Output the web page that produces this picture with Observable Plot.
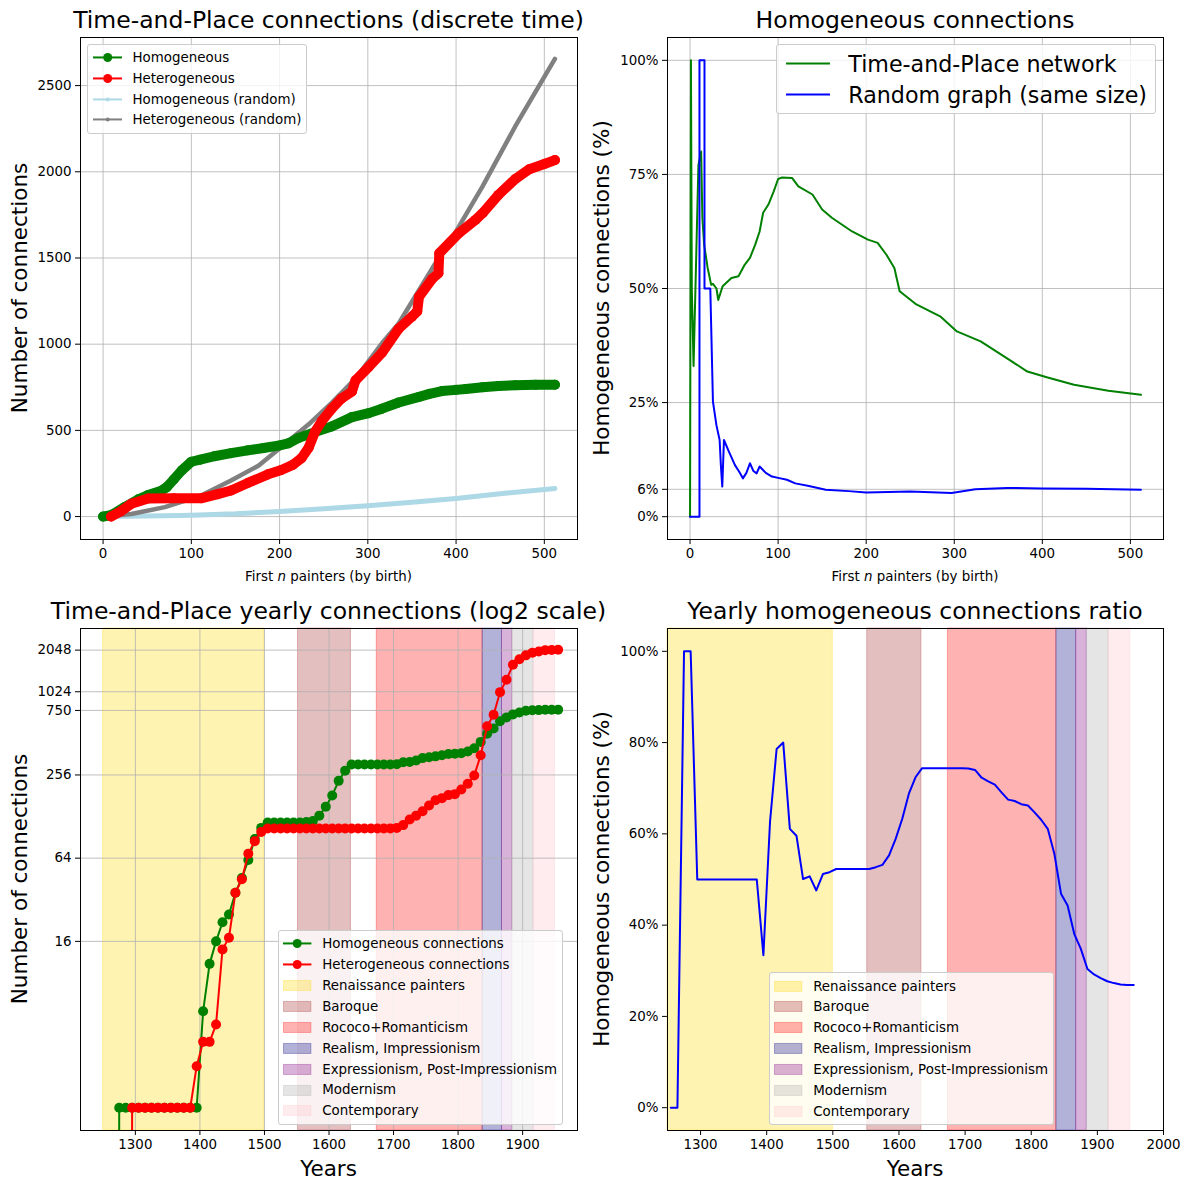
<!DOCTYPE html>
<html>
<head>
<meta charset="utf-8">
<script src="https://cdn.jsdelivr.net/npm/d3@7"></script>
<script src="https://cdn.jsdelivr.net/npm/@observablehq/plot@0.6"></script>
<style>
  body { margin: 0; background: #fff; }
  #fig { position: relative; width: 1189px; height: 1189px; font-family: "DejaVu Sans", sans-serif; color: #000; overflow: hidden; }
  .abs { position: absolute; white-space: nowrap; }
  .title { font-size: 23.5px; line-height: 1; transform: translateX(-50%); }
  .xlab-small { font-size: 13.4px; line-height: 1; transform: translateX(-50%); }
  .xlab-big { font-size: 21.5px; line-height: 1; transform: translateX(-50%); }
  .ylab { font-size: 21.5px; transform: translate(-50%, -50%) rotate(-90deg); }
  .legend { position: absolute; background: rgba(255,255,255,0.8); border: 1px solid #cccccc; border-radius: 3px; white-space: nowrap; }
</style>
</head>
<body>
<div id="fig"></div>
<script>
// ---------------- DATA ----------------
// Panel 1: cumulative connections among the first n painters
const homN = [0, 10, 24, 40, 51, 66, 72, 80, 89, 100, 110, 126, 145, 164, 182, 200, 210, 221, 240, 259, 282, 301, 316, 335, 358, 370, 384, 400, 411, 430, 448, 467, 490, 512];
const homV = [0, 10, 54, 100, 125, 150, 170, 215, 267, 318, 330, 350, 368, 384, 398, 413, 425, 455, 490, 522, 577, 600, 626, 662, 694, 712, 728, 735, 740, 750, 757, 762, 764, 765];
const hetN = [9, 20, 32, 51, 80, 111, 130, 145, 164, 187, 202, 215, 225, 233, 240, 248, 259, 270, 282, 286, 301, 316, 335, 350, 356, 358, 373, 380, 381, 403, 422, 430, 448, 467, 483, 500, 512];
const hetV = [0, 30, 74, 105, 106, 106, 130, 151, 195, 245, 270, 300, 340, 400, 490, 555, 625, 684, 725, 790, 868, 950, 1090, 1160, 1190, 1275, 1380, 1411, 1527, 1643, 1721, 1760, 1866, 1958, 2015, 2045, 2068];
const randHomN = [0, 50, 89, 100, 150, 200, 250, 300, 350, 400, 450, 512];
const randHomV = [0, 3, 6, 8, 16, 30, 45, 63, 83, 105, 132, 163];
const randHetN = [0, 32, 70, 111, 145, 176, 202, 233, 259, 286, 316, 335, 373, 401, 430, 467, 512];
const randHetV = [0, 15, 55, 122, 209, 295, 403, 535, 660, 800, 1005, 1120, 1440, 1663, 1915, 2263, 2655];
const painterTicks = [0, 100, 200, 300, 400, 500];
const countTicks = [0, 500, 1000, 1500, 2000, 2500];

// Panel 2: share of homogeneous connections (%)
const tpRatioN = [0, 1, 2, 4, 9.5, 12.6, 14, 16, 20, 24, 26, 30, 32, 37, 47, 55, 62, 68, 74, 79, 83, 89, 95, 100, 104, 116, 123, 139, 150, 161, 184, 202, 213, 223, 232, 238, 257, 284, 303, 330, 360, 383, 406, 436, 475, 512];
const tpRatioV = [0, 100, 50, 33, 77, 80, 65.5, 59.6, 54.5, 50.8, 51, 50, 47.5, 50.5, 52.3, 52.7, 55.2, 56.7, 59.6, 62.5, 66.6, 68.4, 71.3, 74, 74.3, 74.2, 72.4, 70.6, 67.3, 65.5, 62.5, 60.7, 60, 57.4, 54.5, 49.4, 46.5, 43.9, 40.6, 38.4, 34.7, 31.8, 30.5, 28.9, 27.6, 26.7];
const rgRatioN = [0, 10.7, 10.7, 16.4, 16.4, 23, 26, 30, 33.6, 35, 36.6, 38.5, 44, 51, 56, 60, 64, 68, 72, 75.6, 79, 86, 93, 100, 110, 119.5, 135, 154, 180, 200, 250, 297, 324, 360, 400, 450, 512];
const rgRatioV = [0, 0, 100, 100, 50, 50, 25.2, 20, 16.8, 11.3, 6.6, 16.8, 14.3, 11.3, 9.8, 8.4, 9.6, 11.7, 10, 9.5, 11, 9.6, 8.8, 8.5, 8.1, 7.3, 6.7, 5.9, 5.6, 5.3, 5.5, 5.2, 6.0, 6.3, 6.2, 6.1, 5.9];
const pctTicks = [0, 6, 25, 50, 75, 100];

// Panels 3 & 4: yearly cumulative connections
const years = [1255, 1265, 1275, 1285, 1295, 1305, 1315, 1325, 1335, 1345, 1355, 1365, 1375, 1385, 1395, 1405, 1415, 1425, 1435, 1445, 1455, 1465, 1475, 1485, 1495, 1505, 1515, 1525, 1535, 1545, 1555, 1565, 1575, 1585, 1595, 1605, 1615, 1625, 1635, 1645, 1655, 1665, 1675, 1685, 1695, 1705, 1715, 1725, 1735, 1745, 1755, 1765, 1775, 1785, 1795, 1805, 1815, 1825, 1835, 1845, 1855, 1865, 1875, 1885, 1895, 1905, 1915, 1925, 1935, 1945, 1955];
const yearHom = [0, 0, 1, 1, 1, 1, 1, 1, 1, 1, 1, 1, 1, 1, 1, 5, 11, 16, 22, 25, 36, 46, 62, 88, 106, 116, 116, 116, 116, 116, 116, 117, 119, 130, 151, 182, 232, 275, 305, 305, 305, 305, 305, 305, 305, 306, 316, 318, 326, 339, 344, 349, 356, 363, 364, 368, 378, 399, 444, 509, 556, 626, 668, 702, 725, 745, 752, 754, 758, 758, 760];
const yearHet = [0, 0, 0, 0, 1, 1, 1, 1, 1, 1, 1, 1, 1, 1, 2, 3, 3, 4, 14, 17, 36, 45, 69, 85, 99, 105, 105, 105, 105, 105, 105, 105, 105, 105, 105, 105, 105, 105, 105, 105, 105, 105, 105, 105, 105, 106, 111, 122, 130, 140, 154, 168, 174, 183, 186, 201, 221, 254, 355, 576, 699, 1017, 1252, 1607, 1758, 1878, 1963, 2005, 2048, 2055, 2062];
const yearRatio = [0, 0, 100, 100, 50, 50, 50, 50, 50, 50, 50, 50, 50, 50, 33.4, 62.6, 78.6, 80, 61.1, 59.6, 50.1, 50.7, 47.6, 51.2, 51.6, 52.3, 52.3, 52.3, 52.3, 52.3, 52.3, 52.7, 53.2, 55.3, 58.9, 63.3, 68.8, 72.4, 74.4, 74.4, 74.4, 74.4, 74.4, 74.4, 74.4, 74.3, 74.0, 72.3, 71.5, 70.8, 69.1, 67.5, 67.2, 66.5, 66.2, 64.7, 63.1, 61.1, 55.6, 46.9, 44.3, 38.1, 34.8, 30.4, 29.2, 28.4, 27.7, 27.3, 27.0, 26.9, 26.9];
const logTicks = [16, 64, 256, 750, 1024, 2048];
const yearTicks3 = [1300, 1400, 1500, 1600, 1700, 1800, 1900];
const yearTicks4 = [1300, 1400, 1500, 1600, 1700, 1800, 1900, 2000];
const ratioTicks = [0, 20, 40, 60, 80, 100];

// Art periods
const periodNames = ["Renaissance painters", "Baroque", "Rococo+Romanticism", "Realism, Impressionism", "Expressionism, Post-Impressionism", "Modernism", "Contemporary"];
const periodStart = [1250, 1552, 1674, 1838, 1868, 1884, 1917];
const periodEnd = [1500, 1634, 1838, 1868, 1884, 1917, 1950];
// style
const periodColors = ["gold", "brown", "red", "navy", "purple", "darkgray", "pink"];

// ---------------- HELPERS ----------------
const fig = document.getElementById("fig");
const gridColor = "#b0b0b0";
const baseStyle = { fontSize: "13.4px", fontFamily: "'DejaVu Sans', sans-serif", background: "transparent", color: "#000", overflow: "visible" };
const zip = (xs, ys) => xs.map((x, i) => ({ x, y: ys[i] }));
const periods = periodNames.map((name, i) => ({ name, x1: periodStart[i], x2: periodEnd[i], color: periodColors[i] }));
const yearly = years.map((yr, i) => ({ year: yr, hom: yearHom[i], het: yearHet[i], ratio: yearRatio[i] }));
const pos = v => (v > 0 ? v : 1e-30); // log scale: zero drawn as "below the axis"

function place(node, left, top, w) {
  const d = document.createElement("div");
  d.className = "abs";
  d.style.left = left + "px"; d.style.top = top + "px"; d.style.width = w + "px";
  d.appendChild(node);
  fig.appendChild(d);
}
function text(cls, html, left, top) {
  const d = document.createElement("div");
  d.className = "abs " + cls;
  d.style.left = left + "px"; d.style.top = top + "px";
  d.innerHTML = html;
  fig.appendChild(d);
}
function legend(o) {
  const box = document.createElement("div");
  box.className = "legend";
  box.style.top = o.top + "px";
  if (o.right != null) box.style.right = (1189 - o.right) + "px"; else box.style.left = o.left + "px";
  box.style.padding = `${o.padY}px ${o.padR}px ${o.padY}px ${o.padX}px`;
  box.style.fontSize = o.fontSize + "px";
  const ns = "http://www.w3.org/2000/svg";
  for (const it of o.items) {
    const row = document.createElement("div");
    row.style.display = "flex"; row.style.alignItems = "center"; row.style.height = o.rowH + "px";
    const svg = document.createElementNS(ns, "svg");
    svg.setAttribute("width", o.handleW); svg.setAttribute("height", o.rowH);
    svg.style.flex = "none"; svg.style.marginRight = o.gap + "px";
    const cy = o.rowH / 2;
    if (it.kind === "line") {
      const l = document.createElementNS(ns, "line");
      l.setAttribute("x1", 0); l.setAttribute("x2", o.handleW); l.setAttribute("y1", cy); l.setAttribute("y2", cy);
      l.setAttribute("stroke", it.color); l.setAttribute("stroke-width", 2);
      svg.appendChild(l);
      if (it.r) {
        const c = document.createElementNS(ns, "circle");
        c.setAttribute("cx", o.handleW / 2); c.setAttribute("cy", cy); c.setAttribute("r", it.r);
        c.setAttribute("fill", it.color);
        svg.appendChild(c);
      }
    } else {
      const r = document.createElementNS(ns, "rect");
      r.setAttribute("x", 0.5); r.setAttribute("y", cy - 5); r.setAttribute("width", o.handleW - 1); r.setAttribute("height", 10);
      r.setAttribute("fill", it.color); r.setAttribute("fill-opacity", 0.3);
      r.setAttribute("stroke", it.color); r.setAttribute("stroke-opacity", 0.3);
      svg.appendChild(r);
    }
    row.appendChild(svg);
    const t = document.createElement("span");
    t.textContent = it.label;
    row.appendChild(t);
    box.appendChild(row);
  }
  fig.appendChild(box);
}
const axisOpts = { tickSize: 5, tickPadding: 4, label: null };

// ---------------- PANEL 1 ----------------
const p1 = Plot.plot({
  width: 600, height: 570, marginLeft: 80, marginRight: 23, marginTop: 37, marginBottom: 31,
  style: baseStyle,
  x: { ...axisOpts, domain: [-25.6, 537.6], ticks: painterTicks, tickFormat: d => String(d) },
  y: { ...axisOpts, domain: [-133, 2779], ticks: countTicks, tickFormat: d => String(d) },
  marks: [
    Plot.ruleX(painterTicks, { stroke: gridColor, strokeWidth: 0.8 }),
    Plot.ruleY(countTicks, { stroke: gridColor, strokeWidth: 0.8 }),
    Plot.line(zip(randHomN, randHomV), { x: "x", y: "y", stroke: "lightblue", strokeWidth: 5, strokeLinejoin: "round", strokeLinecap: "round" }),
    Plot.line(zip(randHetN, randHetV), { x: "x", y: "y", stroke: "gray", strokeWidth: 4.5, strokeLinejoin: "round", strokeLinecap: "round" }),
    Plot.line(zip(homN, homV), { x: "x", y: "y", stroke: "green", strokeWidth: 10, strokeLinejoin: "round", strokeLinecap: "round" }),
    Plot.dot(zip(homN, homV), { x: "x", y: "y", r: 5, fill: "green" }),
    Plot.line(zip(hetN, hetV), { x: "x", y: "y", stroke: "red", strokeWidth: 10, strokeLinejoin: "round", strokeLinecap: "round" }),
    Plot.dot(zip(hetN, hetV), { x: "x", y: "y", r: 5, fill: "red" }),
    Plot.frame({ stroke: "#000", strokeWidth: 1 })
  ]
});
place(p1, 0, 0, 600);

// ---------------- PANEL 2 ----------------
const p2 = Plot.plot({
  width: 589, height: 570, marginLeft: 67, marginRight: 26, marginTop: 37, marginBottom: 31,
  style: baseStyle,
  x: { ...axisOpts, domain: [-25.6, 537.6], ticks: painterTicks, tickFormat: d => String(d) },
  y: { ...axisOpts, domain: [-5, 105], ticks: pctTicks, tickFormat: d => d + "%" },
  marks: [
    Plot.ruleX(painterTicks, { stroke: gridColor, strokeWidth: 0.8 }),
    Plot.ruleY(pctTicks, { stroke: gridColor, strokeWidth: 0.8 }),
    Plot.line(zip(tpRatioN, tpRatioV), { x: "x", y: "y", stroke: "green", strokeWidth: 2 }),
    Plot.line(zip(rgRatioN, rgRatioV), { x: "x", y: "y", stroke: "blue", strokeWidth: 2 }),
    Plot.frame({ stroke: "#000", strokeWidth: 1 })
  ]
});
place(p2, 600, 0, 589);

// ---------------- PANEL 3 ----------------
const p3 = Plot.plot({
  width: 600, height: 570, marginLeft: 80, marginRight: 23, marginTop: 38, marginBottom: 30,
  style: baseStyle,
  x: { ...axisOpts, domain: [1215, 1985], ticks: yearTicks3, tickFormat: d => String(d) },
  y: { ...axisOpts, type: "log", base: 2, domain: [0.685, 2937], ticks: logTicks, tickFormat: d => String(d) },
  marks: [
    Plot.rect(periods, { x1: "x1", x2: "x2", fill: "color", fillOpacity: 0.3, stroke: "color", strokeOpacity: 0.3 }),
    Plot.ruleX(yearTicks3, { stroke: gridColor, strokeWidth: 0.8 }),
    Plot.ruleY(logTicks, { stroke: gridColor, strokeWidth: 0.8 }),
    Plot.line(yearly, { x: "year", y: d => pos(d.hom), stroke: "green", strokeWidth: 2, clip: true }),
    Plot.dot(yearly, { x: "year", y: d => pos(d.hom), r: 5, fill: "green", clip: true }),
    Plot.line(yearly, { x: "year", y: d => pos(d.het), stroke: "red", strokeWidth: 2, clip: true }),
    Plot.dot(yearly, { x: "year", y: d => pos(d.het), r: 5, fill: "red", clip: true }),
    Plot.frame({ stroke: "#000", strokeWidth: 1 })
  ]
});
place(p3, 0, 590, 600);

// ---------------- PANEL 4 ----------------
const p4 = Plot.plot({
  width: 589, height: 570, marginLeft: 67, marginRight: 26, marginTop: 38, marginBottom: 30,
  style: baseStyle,
  x: { ...axisOpts, domain: [1250, 2000], ticks: yearTicks4, tickFormat: d => String(d) },
  y: { ...axisOpts, domain: [-5, 105], ticks: ratioTicks, tickFormat: d => d + "%" },
  marks: [
    Plot.rect(periods, { x1: "x1", x2: "x2", fill: "color", fillOpacity: 0.3, stroke: "color", strokeOpacity: 0.3 }),
    Plot.line(yearly, { x: "year", y: "ratio", stroke: "blue", strokeWidth: 2, clip: true }),
    Plot.frame({ stroke: "#000", strokeWidth: 1 })
  ]
});
place(p4, 600, 590, 589);

// ---------------- TEXT ----------------
text("title", "Time-and-Place connections (discrete time)", 328.5, 9);
text("title", "Homogeneous connections", 915, 9);
text("title", "Time-and-Place yearly connections (log2 scale)", 328.5, 600);
text("title", "Yearly homogeneous connections ratio", 915, 600);
text("xlab-small", "First <i>n</i> painters (by birth)", 328.5, 569.7);
text("xlab-small", "First <i>n</i> painters (by birth)", 915, 569.7);
text("xlab-big", "Years", 328.5, 1157.8);
text("xlab-big", "Years", 915, 1157.8);
text("ylab", "Number of connections", 19, 288);
text("ylab", "Homogeneous connections (%)", 601, 288);
text("ylab", "Number of connections", 19, 879);
text("ylab", "Homogeneous connections (%)", 601, 879);

// ---------------- LEGENDS ----------------
legend({ left: 87, top: 43.5, padX: 4.5, padR: 5, padY: 2.3, rowH: 20.9, handleW: 29.4, gap: 10.6, fontSize: 13.4, items: [
  { kind: "line", color: "green", r: 4.5, label: "Homogeneous" },
  { kind: "line", color: "red", r: 4.5, label: "Heterogeneous" },
  { kind: "line", color: "lightblue", r: 2, label: "Homogeneous (random)" },
  { kind: "line", color: "gray", r: 2, label: "Heterogeneous (random)" }
]});
legend({ right: 1156, top: 44, padX: 9, padR: 8, padY: 3, rowH: 31, handleW: 44, gap: 17.8, fontSize: 22.2, items: [
  { kind: "line", color: "green", label: "Time-and-Place network" },
  { kind: "line", color: "blue", label: "Random graph (same size)" }
]});
legend({ left: 277.7, top: 930, padX: 4.5, padR: 5, padY: 2.3, rowH: 20.9, handleW: 28.4, gap: 10.6, fontSize: 13.4, items: [
  { kind: "line", color: "green", r: 4.5, label: "Homogeneous connections" },
  { kind: "line", color: "red", r: 4.5, label: "Heterogeneous connections" },
  ...periods.map(p => ({ kind: "patch", color: p.color, label: p.name }))
]});
legend({ left: 768.7, top: 972.3, padX: 4.5, padR: 5, padY: 2.3, rowH: 20.9, handleW: 28.4, gap: 10.6, fontSize: 13.4, items: periods.map(p => ({ kind: "patch", color: p.color, label: p.name })) });
</script>
</body>
</html>
